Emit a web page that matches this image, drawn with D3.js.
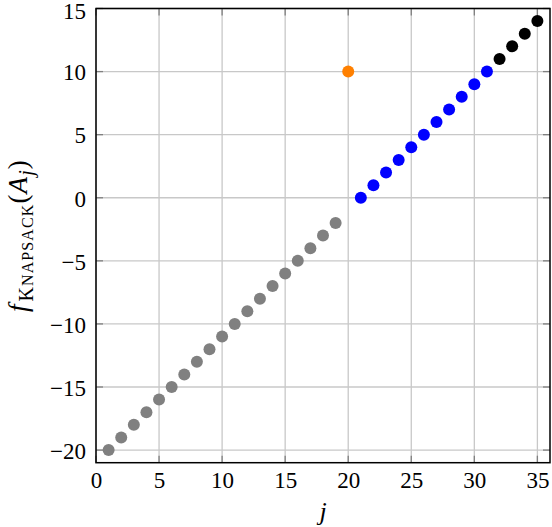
<!DOCTYPE html>
<html><head><meta charset="utf-8">
<script src="https://cdn.jsdelivr.net/npm/d3@7"></script>
<style>body{margin:0;background:#fff} svg text{font-family:"Liberation Serif","Times New Roman",serif;}</style>
</head><body>
<svg id="c" width="552" height="527"></svg>
<script>
const grayJ = [1,2,3,4,5,6,7,8,9,10,11,12,13,14,15,16,17,18,19];
const grayF = [-20,-19,-18,-17,-16,-15,-14,-13,-12,-11,-10,-9,-8,-7,-6,-5,-4,-3,-2];
const orangeJ = [20];
const orangeF = [10];
const blueJ = [21,22,23,24,25,26,27,28,29,30,31];
const blueF = [0,1,2,3,4,5,6,7,8,9,10];
const blackJ = [32,33,34,35];
const blackF = [11,12,13,14];
const xTicks = [0,5,10,15,20,25,30,35];
const yTicks = [-20,-15,-10,-5,0,5,10,15];

const svg = d3.select("#c");
const L = 96, R = 550, T = 8.5, B = 462.7;
const x = d3.scaleLinear().domain([0,36]).range([L,R]);
const y = d3.scaleLinear().domain([-21,15]).range([B,T]);

// grid
svg.append("g").selectAll("line").data(xTicks).join("line")
  .attr("x1", d=>x(d)).attr("x2", d=>x(d)).attr("y1", T).attr("y2", B)
  .attr("stroke", "#c8c8c8").attr("stroke-width", 1.3);
svg.append("g").selectAll("line").data(yTicks).join("line")
  .attr("y1", d=>y(d)).attr("y2", d=>y(d)).attr("x1", L).attr("x2", R)
  .attr("stroke", "#c8c8c8").attr("stroke-width", 1.3);

// tick marks (inside, mirrored)
const tl = 7;
const tg = svg.append("g").attr("stroke", "#808080").attr("stroke-width", 1.3);
xTicks.forEach(d => {
  tg.append("line").attr("x1", x(d)).attr("x2", x(d)).attr("y1", B).attr("y2", B - tl);
  tg.append("line").attr("x1", x(d)).attr("x2", x(d)).attr("y1", T).attr("y2", T + tl);
});
yTicks.forEach(d => {
  tg.append("line").attr("y1", y(d)).attr("y2", y(d)).attr("x1", L).attr("x2", L + tl);
  tg.append("line").attr("y1", y(d)).attr("y2", y(d)).attr("x1", R).attr("x2", R - tl);
});

// tick labels via axes (no lines)
const xAxis = svg.append("g").attr("transform", `translate(0,${B})`)
  .call(d3.axisBottom(x).tickValues(xTicks).tickSize(0).tickPadding(0).tickFormat(d3.format("d")));
xAxis.select(".domain").remove();
xAxis.attr("font-family", null).attr("font-size", 23);
xAxis.selectAll("text").attr("dy", null).attr("y", 25.5).attr("fill", "#000");

const yAxis = svg.append("g").attr("transform", `translate(${L},0)`)
  .call(d3.axisLeft(y).tickValues(yTicks).tickSize(0).tickPadding(10).tickFormat(d => d < 0 ? "\u2212" + Math.abs(d) : d));
yAxis.select(".domain").remove();
yAxis.attr("font-family", null).attr("font-size", 23);
yAxis.selectAll("text").attr("dy", d => d === 15 ? "0.42em" : "0.36em").attr("fill", "#000");

// points
function pts(js, fs, color) {
  svg.append("g").selectAll("circle").data(js.map((j,i)=>[j, fs[i]])).join("circle")
    .attr("cx", d=>x(d[0])).attr("cy", d=>y(d[1])).attr("r", 6).attr("fill", color);
}
pts(grayJ, grayF, "#808080");
pts(blueJ, blueF, "#0000ff");
pts(blackJ, blackF, "#000000");
pts(orangeJ, orangeF, "#ff8000");

// frame
svg.append("rect").attr("x", L).attr("y", T).attr("width", R-L).attr("height", B-T)
  .attr("fill", "none").attr("stroke", "#000").attr("stroke-width", 1.5);

// x label
svg.append("text").attr("x", (L+R)/2).attr("y", 520).attr("text-anchor", "middle")
  .attr("font-style", "italic").attr("font-size", 26).text("j");

// y label
const yl = svg.append("text").attr("transform", `translate(27,${(T+B)/2}) rotate(-90)`)
  .attr("text-anchor", "middle").attr("font-size", 27).attr("letter-spacing", 1.1);
yl.append("tspan").attr("font-style", "italic").text("f");
yl.append("tspan").attr("font-size", 20).attr("dy", 6).attr("dx", 2).text("K");
yl.append("tspan").attr("font-size", 16).text("NAPSACK");
yl.append("tspan").attr("dy", -6).text("(");
yl.append("tspan").attr("font-style", "italic").text("A");
yl.append("tspan").attr("font-style", "italic").attr("font-size", 20).attr("dy", 6).text("j");
yl.append("tspan").attr("dy", -6).text(")");
</script>
</body></html>
